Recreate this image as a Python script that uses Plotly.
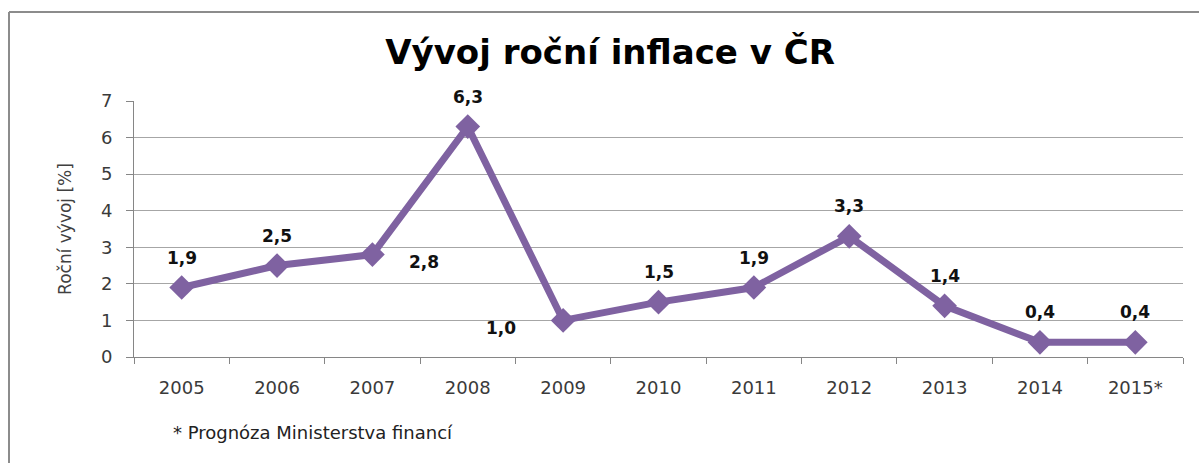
import plotly.graph_objects as go

# ---- data ----
years = ["2005", "2006", "2007", "2008", "2009", "2010", "2011", "2012", "2013", "2014", "2015*"]
inflation = [1.9, 2.5, 2.8, 6.3, 1.0, 1.5, 1.9, 3.3, 1.4, 0.4, 0.4]
title_text = "Vývoj roční inflace v ČR"
y_title = "Roční vývoj [%]"
footnote = "* Prognóza Ministerstva financí"

PURPLE = "#7F62A1"
FONT = "DejaVu Sans"

# plot-area geometry (pixels)
L, R, T, B = 134, 16, 101, 106
W, H = 1199, 463
PW, PH = W - L - R, H - T - B


def px_x(x):
    return (x - L) / PW


def px_y(y):
    return (H - B - y) / PH


fig = go.Figure()
fig.add_trace(go.Scatter(
    x=years, y=inflation, mode="lines+markers",
    line=dict(color=PURPLE, width=7),
    marker=dict(symbol="diamond", size=19, color=PURPLE),
    hoverinfo="skip", showlegend=False,
))

# data labels (offset in pixels from each point)
special = {"2007": (52, -7), "2009": (-62, -8)}
for i, (yr, v) in enumerate(zip(years, inflation)):
    dx, dy = special.get(yr, (0, 30))
    fig.add_annotation(
        x=i, y=v, xref="x", yref="y", text=f"{v:.1f}".replace(".", ","),
        showarrow=False, xshift=dx, yshift=dy,
        font=dict(family=FONT, size=17, color="#111111", weight="bold"),
    )

fig.add_annotation(
    x=px_x(171), y=px_y(432), xref="paper", yref="paper", text=footnote,
    showarrow=False, xanchor="left", yanchor="middle",
    font=dict(family=FONT, size=18, color="#222222"),
)

# frame lines (top and left)
fig.add_shape(type="line", xref="paper", yref="paper",
              x0=px_x(9), x1=px_x(1199), y0=px_y(12), y1=px_y(12),
              line=dict(color="#8C8C8C", width=2))
fig.add_shape(type="line", xref="paper", yref="paper",
              x0=px_x(9), x1=px_x(9), y0=px_y(12), y1=px_y(463),
              line=dict(color="#8C8C8C", width=2))

fig.update_layout(
    width=W, height=H,
    margin=dict(l=L, r=R, t=T, b=B),
    paper_bgcolor="white", plot_bgcolor="white",
    title=dict(text=title_text, x=610 / W, xanchor="center",
               y=1 - 52 / H, yanchor="middle",
               font=dict(family=FONT, size=34, color="#000000", weight="bold")),
    font=dict(family=FONT),
)
fig.update_xaxes(
    type="category", tickson="boundaries", ticks="outside", ticklen=6,
    tickcolor="#868686", showline=True, linecolor="#868686", linewidth=1,
    showgrid=False, tickfont=dict(family=FONT, size=18, color="#3A3A3A"),
    ticklabelstandoff=14,
    range=[-0.5, 10.5],
)
fig.update_yaxes(
    range=[0, 7], dtick=1, ticks="outside", ticklen=7, tickcolor="#868686",
    showline=True, linecolor="#868686", linewidth=1,
    showgrid=True, gridcolor="#A6A6A6", gridwidth=1, zeroline=False,
    tickfont=dict(family=FONT, size=18, color="#3A3A3A"),
    ticklabelstandoff=10,
    title=dict(text=y_title, standoff=24, font=dict(family=FONT, size=17, color="#404040")),
)

fig.write_html("out.html", config={"displayModeBar": False},
               post_script="document.body.style.margin='0px';")
